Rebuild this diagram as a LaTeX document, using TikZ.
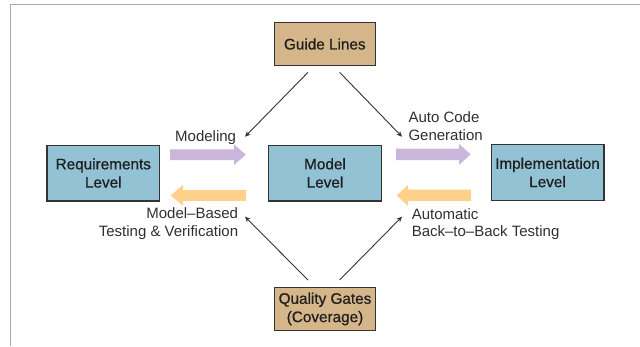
\documentclass[tikz,border=0pt]{standalone}
\usepackage{fontspec}
\setmainfont{Liberation Sans}
\newfontfamily\semibold{Liberation Sans}[FakeBold=0.7]
\usetikzlibrary{arrows.meta}
\definecolor{boxblue}{HTML}{92C2D4}
\definecolor{boxtan}{HTML}{D5B68A}
\definecolor{fatpurple}{HTML}{C9B6DA}
\definecolor{fatorange}{HTML}{FDD08C}
\definecolor{framegray}{HTML}{AAAAAA}
\definecolor{edgegray}{HTML}{333333}
\definecolor{labelgray}{HTML}{303030}
\begin{document}
\begin{tikzpicture}[x=1pt,y=-1pt,
  boxtext/.style={font=\fontsize{15.3}{18.3}\selectfont\semibold, text=black!88},
  levelbox/.style={boxtext, draw=edgegray, line width=1.2pt, fill=boxblue,
    minimum width=112.8pt, minimum height=55.8pt, inner sep=0pt, align=center},
  tanbox/.style={boxtext, draw=edgegray, line width=1.2pt, fill=boxtan,
    minimum width=101.4pt, minimum height=42.5pt, inner sep=0pt, align=center},
  lbl/.style={font=\fontsize{15}{18.3}\selectfont, text=labelgray, inner sep=0pt},
  diag/.style={draw=edgegray, line width=0.9pt, -{Stealth[length=5.5pt,width=5pt]}},
  fatp/.style={fill=fatpurple, draw=none},
  fato/.style={fill=fatorange, draw=none}]
\useasboundingbox (0,0) rectangle (640,346);
% frame
\draw[framegray, line width=1.3pt] (640,4.7) -- (10.2,4.7) -- (10.2,346);
% boxes
\node[tanbox] (guide) at (324.8,44) {Guide Lines};
\node[tanbox] (quality) at (325,309) {Quality Gates\\(Coverage)};
\node[levelbox] (req) at (103.3,173) {Requirements\\Level};
\node[levelbox] (model) at (325,173) {Model\\Level};
\node[levelbox] (impl) at (547.5,172.5) {Implementation\\Level};
% diagonal connectors
\coordinate (g1) at (308,72.3);
\coordinate (g2) at (339.6,72.3);
\coordinate (m1) at (245,136.7);
\coordinate (m2) at (402,136.7);
\coordinate (q1) at (308,280);
\coordinate (q2) at (339.6,280);
\coordinate (m3) at (245,216.7);
\coordinate (m4) at (402,216.7);
\draw[diag] (g1) -- (m1);
\draw[diag] (g2) -- (m2);
\draw[diag] (q1) -- (m3);
\draw[diag] (q2) -- (m4);
% fat arrows
\fill[fatp] (170,149.3) -- (234,149.3) -- (234,144.3) -- (245.8,154.7) -- (234,165.1) -- (234,160.1) -- (170,160.1) -- cycle;
\fill[fato] (246,190) -- (183,190) -- (183,185) -- (170.7,195.4) -- (183,205.8) -- (183,200.8) -- (246,200.8) -- cycle;
\fill[fatp] (396,148.6) -- (459,148.6) -- (459,143.9) -- (470.6,154.4) -- (459,164.9) -- (459,160.2) -- (396,160.2) -- cycle;
\fill[fato] (471,189.6) -- (408,189.6) -- (408,185) -- (396.7,195.4) -- (408,205.8) -- (408,200.8) -- (471,200.8) -- cycle;
% labels
\node[lbl, anchor=base east] (lmod) at (236.3,141.7) {Modeling};
\node[lbl, anchor=base west] (lac1) at (408.3,122.7) {Auto Code};
\node[lbl, anchor=base west] (lac2) at (408.3,140.3) {Generation};
\node[lbl, anchor=base east] (lmb1) at (238.3,218.5) {Model–Based};
\node[lbl, anchor=base east] (lmb2) at (238.3,236.7) {Testing \& Verification};
\node[lbl, anchor=base west] (lab1) at (411.6,219) {Automatic};
\node[lbl, anchor=base west] (lab2) at (411.6,236.7) {Back–to–Back Testing};
\end{tikzpicture}
\end{document}
